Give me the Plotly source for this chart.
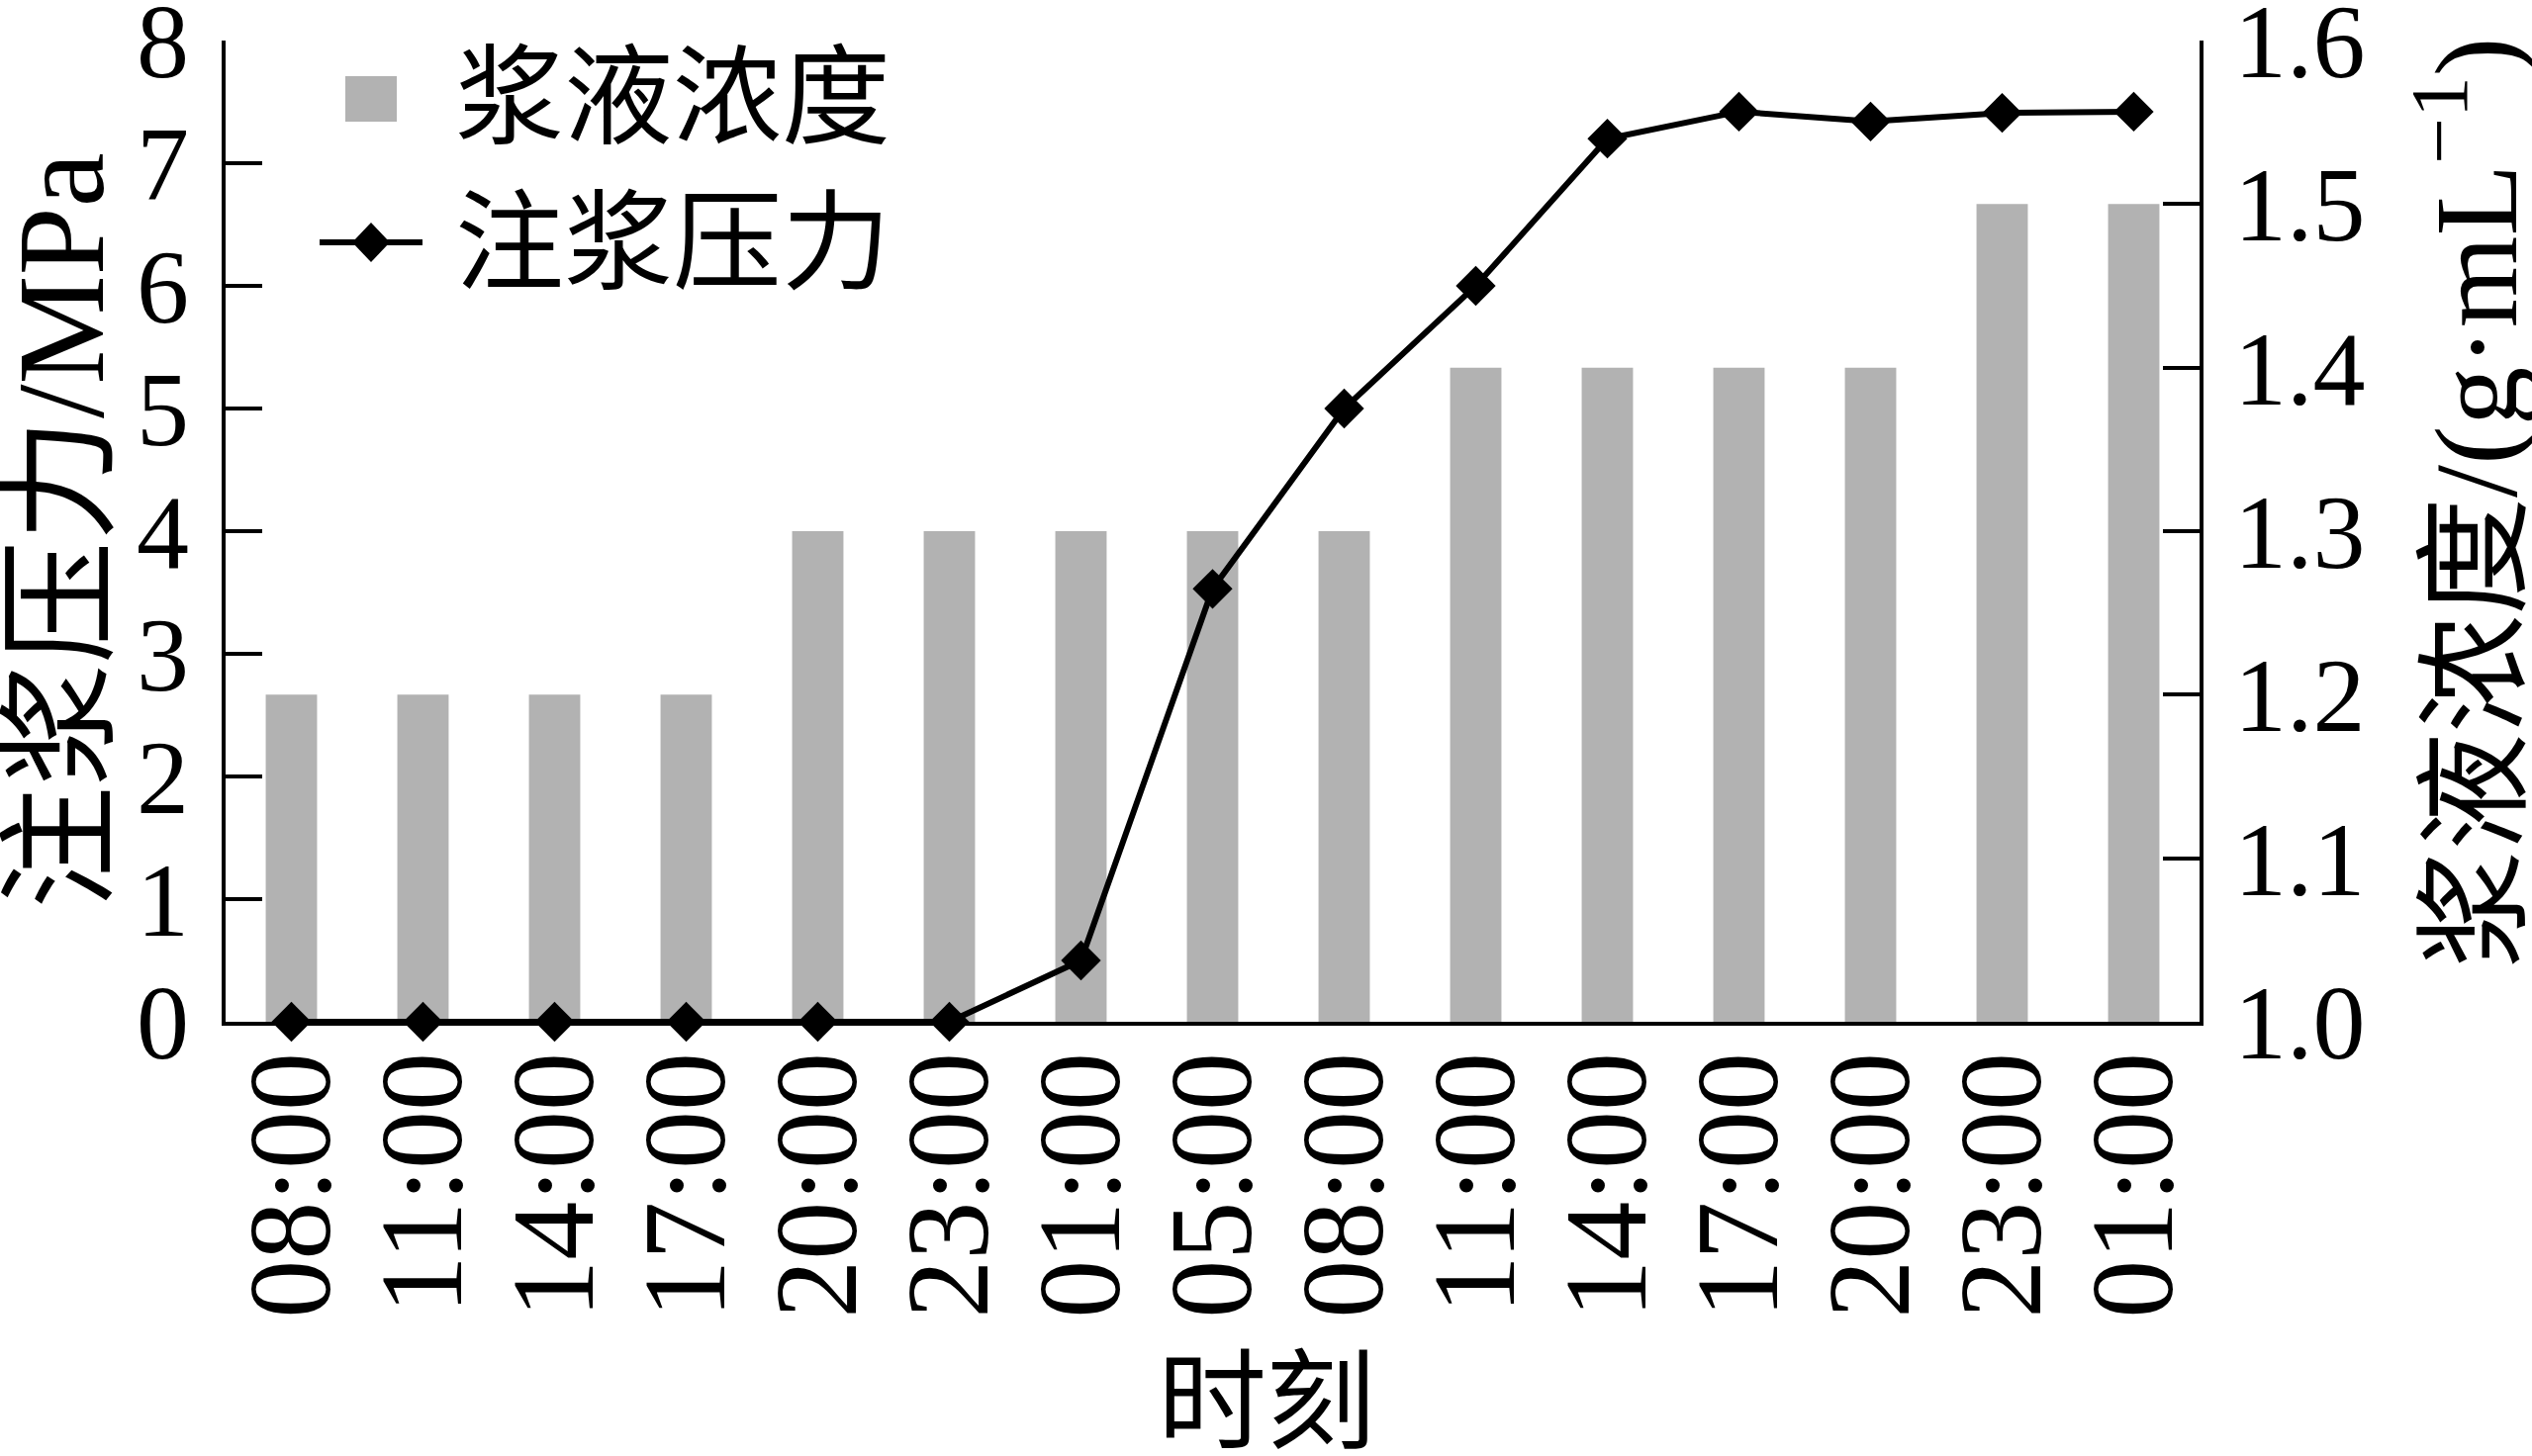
import plotly.graph_objects as go

# ---- data ----
time_labels = ["08:00", "11:00", "14:00", "17:00", "20:00", "23:00", "01:00", "05:00",
               "08:00", "11:00", "14:00", "17:00", "20:00", "23:00", "01:00"]
density = [1.2, 1.2, 1.2, 1.2, 1.3, 1.3, 1.3, 1.3, 1.3, 1.4, 1.4, 1.4, 1.4, 1.5, 1.5]
pressure = [0, 0, 0, 0, 0, 0, 0.5, 3.53, 5.0, 6.0, 7.2, 7.42, 7.34, 7.41, 7.42]
left_ticks = [0, 1, 2, 3, 4, 5, 6, 7, 8]
right_ticks = [1.0, 1.1, 1.2, 1.3, 1.4, 1.5, 1.6]
series_names = ["浆液浓度", "注浆压力"]

W, H = 2559, 1472
L, R, T, B = 228, 2223, 41, 1033  # plot area in pixels
FONT = "Liberation Serif, Noto Sans CJK SC, serif"
CJK = "Noto Sans CJK SC, Liberation Serif, sans-serif"
BAR_COLOR = "#b2b2b2"


def px_x(px):
    return (px - L) / (R - L)


def px_y(py):
    return (B - py) / (B - T)


xpos = list(range(len(time_labels)))

fig = go.Figure()
fig.add_trace(go.Bar(
    x=xpos, y=density, name=series_names[0], yaxis="y",
    marker=dict(color=BAR_COLOR, line=dict(width=0)), width=0.39,
))
fig.add_trace(go.Scatter(
    x=xpos, y=pressure, name=series_names[1], yaxis="y2", mode="lines+markers",
    line=dict(color="black", width=6),
    marker=dict(symbol="diamond", size=31, color="black"),
    cliponaxis=False,
))

# ---- legend (drawn manually to match glyph sizes) ----
shapes = [
    dict(type="rect", xref="paper", yref="paper", xsizemode="pixel", ysizemode="pixel",
         xanchor=px_x(375), yanchor=px_y(100), x0=-26, x1=26, y0=-23, y1=23,
         fillcolor=BAR_COLOR, line=dict(width=0)),
    dict(type="line", xref="paper", yref="paper", xsizemode="pixel", ysizemode="pixel",
         xanchor=px_x(375), yanchor=px_y(245), x0=-52, x1=52, y0=0, y1=0,
         line=dict(color="black", width=6)),
    dict(type="path", xref="paper", yref="paper", xsizemode="pixel", ysizemode="pixel",
         xanchor=px_x(375), yanchor=px_y(245), path="M -19 0 L 0 20 L 19 0 L 0 -20 Z",
         fillcolor="black", line=dict(width=0)),
]
annotations = [
    dict(text=series_names[0], xref="paper", yref="paper", x=px_x(458), y=px_y(89),
         xanchor="left", yanchor="middle", showarrow=False, font=dict(size=110, family=CJK)),
    dict(text=series_names[1], xref="paper", yref="paper", x=px_x(458), y=px_y(236),
         xanchor="left", yanchor="middle", showarrow=False, font=dict(size=110, family=CJK)),
    # axis titles
    dict(text="时刻", xref="paper", yref="paper", x=px_x(1280), y=px_y(1408),
         xanchor="center", yanchor="middle", showarrow=False, font=dict(size=110, family=CJK)),
    dict(text="注浆压力/MPa", xref="paper", yref="paper", x=px_x(62), y=px_y(537),
         xanchor="center", yanchor="middle", textangle=-90, showarrow=False,
         font=dict(size=124, family=FONT)),
    dict(text="浆液浓度/(g·mL<sup>−1</sup>)", xref="paper", yref="paper", x=px_x(2494), y=px_y(509),
         xanchor="center", yanchor="middle", textangle=-90, showarrow=False,
         font=dict(size=119, family=FONT)),
]

axis_common = dict(showline=True, linecolor="black", linewidth=3.5, showgrid=False,
                   zeroline=False, automargin=False)

fig.update_layout(
    width=W, height=H,
    margin=dict(l=L, r=W - R, t=T, b=H - B, pad=0, autoexpand=False),
    paper_bgcolor="white", plot_bgcolor="white",
    font=dict(family=FONT, size=106, color="black"),
    showlegend=False,
    shapes=shapes, annotations=annotations,
    xaxis=dict(
        range=[-0.5, len(time_labels) - 0.5],
        tickmode="array", tickvals=xpos, ticktext=time_labels,
        tickangle=-90, ticks="", ticklen=0, ticklabelstandoff=-20,
        tickfont=dict(size=118), **axis_common,
    ),
    yaxis=dict(
        side="right", range=[1.0, 1.6], tickmode="array", tickvals=right_ticks,
        ticktext=[f"{v:.1f}" for v in right_ticks],
        ticks="inside", ticklen=37, tickwidth=3.5, tickcolor="black",
        ticklabelstandoff=10, ticklabeloverflow="allow",
        tickfont=dict(size=106), **axis_common,
    ),
    yaxis2=dict(
        side="left", overlaying="y", range=[0, 8], tickmode="array", tickvals=left_ticks,
        ticks="inside", ticklen=37, tickwidth=3.5, tickcolor="black",
        ticklabelstandoff=12, ticklabeloverflow="allow",
        tickfont=dict(size=106), **axis_common,
    ),
)

fig.write_html("out.html", config={"displayModeBar": False},
               post_script="document.body.style.margin='0px';")
